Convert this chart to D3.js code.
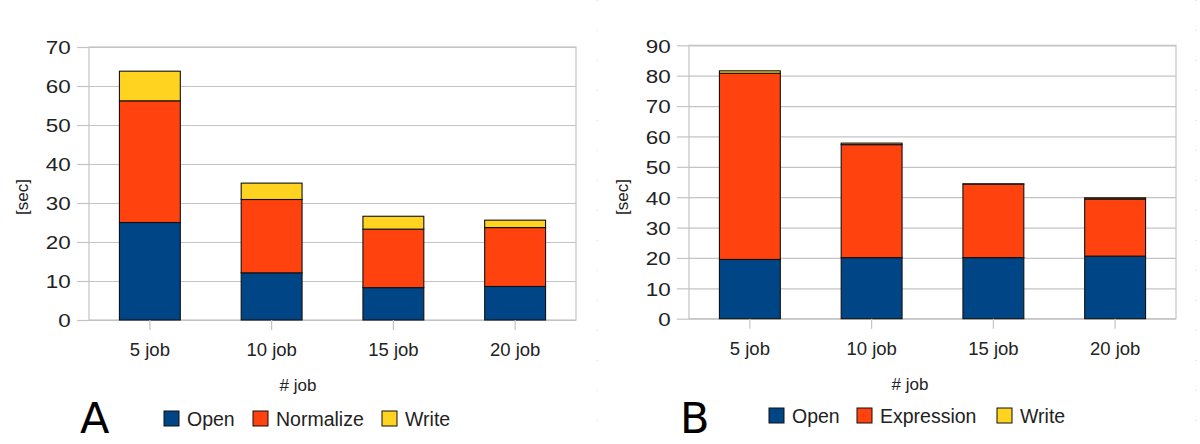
<!DOCTYPE html>
<html>
<head>
<meta charset="utf-8">
<script src="https://cdn.jsdelivr.net/npm/d3@7"></script>
<style>
  html, body { margin: 0; padding: 0; background: #fff; }
  svg { display: block; font-family: "Liberation Sans", Arial, sans-serif; }
</style>
</head>
<body>
<svg id="chart" width="1200" height="444"></svg>
<script>
// ---- data ----
const categories = ["5 job", "10 job", "15 job", "20 job"];
const yTicksA = [0, 10, 20, 30, 40, 50, 60, 70];
const yTicksB = [0, 10, 20, 30, 40, 50, 60, 70, 80, 90];

const seriesNamesA = ["Open", "Normalize", "Write"];
const openA = [25.0, 12.1, 8.3, 8.6];
const normalizeA = [31.2, 18.8, 15.0, 15.1];
const writeA = [7.6, 4.2, 3.3, 1.9];

const seriesNamesB = ["Open", "Expression", "Write"];
const openB = [19.5, 20.1, 20.1, 20.6];
const expressionB = [61.3, 37.2, 24.2, 18.8];
const writeB = [0.8, 0.5, 0.1, 0.4];

const seriesColors = ["#004586", "#ff420e", "#ffd320"];

const svg = d3.select("#chart");

// faint separators seen in the reference
[597, 1196].forEach(x => {
  svg.append("line").attr("x1", x).attr("x2", x).attr("y1", 0).attr("y2", 444)
    .attr("stroke", "#d8d8d8").attr("stroke-width", 1).attr("stroke-dasharray", "1,29");
});

function drawPanel(cfg) {
  const g = svg.append("g");
  const x = d3.scaleBand().domain(categories)
    .range([cfg.left, cfg.right]).paddingInner(0.5).paddingOuter(0.25);
  const y = d3.scaleLinear().domain([0, cfg.yMax]).range([cfg.bottom, cfg.top]);

  // gridlines
  g.append("g")
    .attr("transform", `translate(${cfg.left},0)`)
    .call(d3.axisLeft(y).tickValues(cfg.yTicks).tickSize(-(cfg.right - cfg.left)).tickFormat(""))
    .call(s => s.select(".domain").remove())
    .call(s => s.selectAll("line").attr("stroke", "#c4c4c4").attr("stroke-width", 1.2));

  // plot border
  g.append("rect")
    .attr("x", cfg.left).attr("y", cfg.top)
    .attr("width", cfg.right - cfg.left).attr("height", cfg.bottom - cfg.top)
    .attr("fill", "none").attr("stroke", "#c4c4c4").attr("stroke-width", 1.2);

  // y axis ticks + labels
  const ya = g.append("g")
    .attr("transform", `translate(${cfg.left},0)`)
    .call(d3.axisLeft(y).tickValues(cfg.yTicks).tickSize(12).tickPadding(6));
  ya.select(".domain").remove();
  ya.selectAll("line").attr("stroke", "#c4c4c4").attr("stroke-width", 1.2);
  ya.selectAll("text")
    .attr("fill", "#222").attr("font-size", 19)
    .attr("font-family", "'Liberation Sans', Arial, sans-serif")
    .attr("x", -15.5).attr("transform", "scale(1.18,1)").attr("dy", "0.36em");

  // stacked bars
  const rows = categories.map((c, i) => {
    const o = { cat: c };
    cfg.names.forEach((n, k) => { o[n] = cfg.values[k][i]; });
    return o;
  });
  const stacked = d3.stack().keys(cfg.names)(rows);
  g.append("g").selectAll("g").data(stacked).join("g")
    .attr("fill", (d, k) => seriesColors[k])
    .selectAll("rect").data(d => d).join("rect")
    .attr("x", d => x(d.data.cat))
    .attr("width", x.bandwidth())
    .attr("y", d => y(d[1]))
    .attr("height", d => y(d[0]) - y(d[1]))
    .attr("stroke", "#111").attr("stroke-width", 1.1);

  // x axis ticks + labels
  const xa = g.append("g")
    .attr("transform", `translate(0,${cfg.bottom})`)
    .call(d3.axisBottom(x).tickSize(10).tickPadding(13));
  xa.select(".domain").remove();
  xa.selectAll("line").attr("stroke", "#c4c4c4").attr("stroke-width", 1.2);
  xa.selectAll("text")
    .attr("fill", "#222").attr("font-size", 18.5)
    .attr("font-family", "'Liberation Sans', Arial, sans-serif");

  // axis titles
  g.append("text")
    .attr("transform", `translate(${cfg.yTitleX},${cfg.yTitleY}) rotate(-90)`)
    .attr("text-anchor", "middle").attr("font-size", 17).attr("fill", "#222")
    .text("[sec]");
  g.append("text")
    .attr("x", cfg.xTitleX).attr("y", cfg.xTitleBase)
    .attr("text-anchor", "middle").attr("font-size", 17).attr("fill", "#222")
    .text("# job");

  // panel letter
  g.append("text")
    .attr("x", cfg.letterX).attr("y", 433)
    .attr("font-size", 43).attr("fill", "#000")
    .attr("font-family", "'DejaVu Sans', sans-serif")
    .text(cfg.letter);

  // legend
  const lg = g.append("g");
  cfg.names.forEach((n, k) => {
    lg.append("rect")
      .attr("x", cfg.legendX[k]).attr("y", cfg.legendY - 15)
      .attr("width", 15).attr("height", 15)
      .attr("fill", seriesColors[k]).attr("stroke", "#111").attr("stroke-width", 1);
    lg.append("text")
      .attr("x", cfg.legendX[k] + 23).attr("y", cfg.legendY)
      .attr("font-size", 19.5).attr("fill", "#222")
      .text(n);
  });
}

drawPanel({
  left: 89, right: 576, top: 47, bottom: 320, yMax: 70, yTicks: yTicksA,
  names: seriesNamesA, values: [openA, normalizeA, writeA],
  yTitleX: 28, yTitleY: 197, xTitleX: 298, xTitleBase: 391,
  letter: "A", letterX: 80, legendX: [164, 253, 382], legendY: 426
});

drawPanel({
  left: 689, right: 1176, top: 45.3, bottom: 318.7, yMax: 90, yTicks: yTicksB,
  names: seriesNamesB, values: [openB, expressionB, writeB],
  yTitleX: 628, yTitleY: 197, xTitleX: 910, xTitleBase: 390,
  letter: "B", letterX: 680, legendX: [769, 857, 997], legendY: 423
});
</script>
</body>
</html>
